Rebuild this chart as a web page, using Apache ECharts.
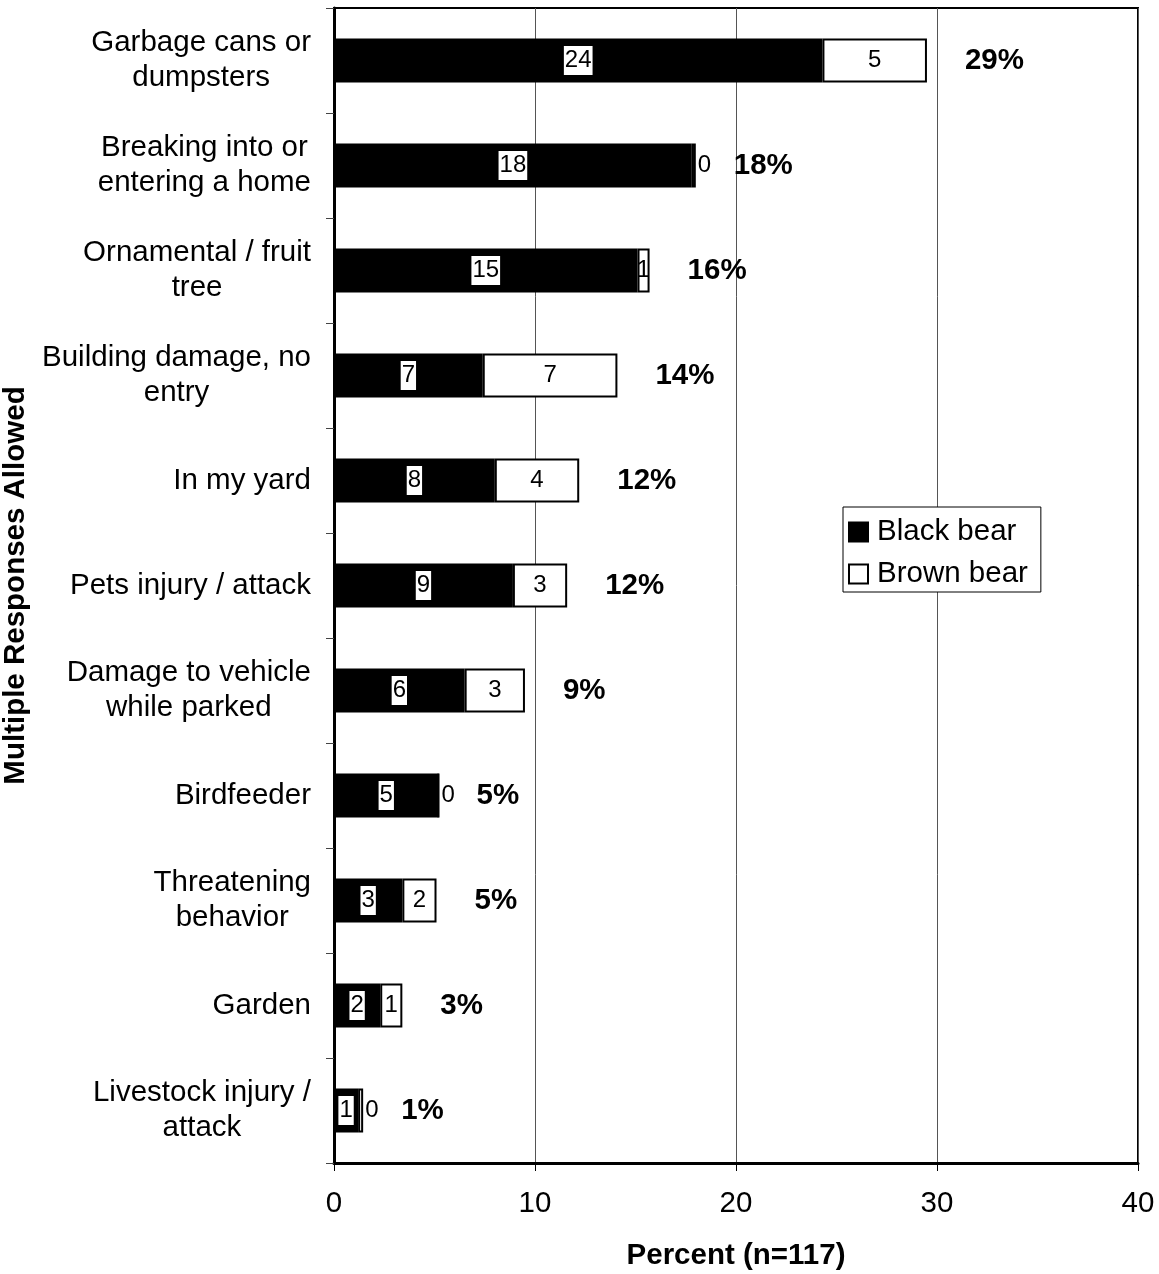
<!DOCTYPE html>
<html>
<head>
<meta charset="utf-8">
<script src="https://cdn.jsdelivr.net/npm/echarts@6/dist/echarts.min.js"></script>
<style>
html, body { margin: 0; padding: 0; background: #fff; }
#chart { width: 1159px; height: 1274px; }
</style>
</head>
<body>
<div id="chart"></div>
<script>
// categories, top to bottom
var categories = ['Garbage cans or\ndumpsters', 'Breaking into or\nentering a home', 'Ornamental / fruit\ntree',
	'Building damage, no\nentry', 'In my yard', 'Pets injury / attack', 'Damage to vehicle\nwhile parked',
	'Birdfeeder', 'Threatening\nbehavior', 'Garden', 'Livestock injury /\nattack'];
// bar lengths (percent)
var blackBear = [24.3, 17.8, 15.1, 7.4, 8.0, 8.9, 6.5, 5.2, 3.4, 2.3, 1.2];
var brownBear = [5.2, 0.2, 0.6, 6.7, 4.2, 2.7, 3.0, 0, 1.7, 1.1, 0.25];
// printed labels
var blackLabels = ['24', '18', '15', '7', '8', '9', '6', '5', '3', '2', '1'];
var brownLabels = ['5', '0', '1', '7', '4', '3', '3', '0', '2', '1', '0'];
var totalLabels = ['29%', '18%', '16%', '14%', '12%', '12%', '9%', '5%', '5%', '3%', '1%'];
var xTicks = [0, 10, 20, 30, 40];

var font = 'Liberation Sans, Arial, sans-serif';
var big = 29.5;

var totals = blackBear.map(function(v, i) { return v + brownBear[i]; });

var brownData = brownBear.map(function(v, i) {
	var d = { value: v };
	if (v < 0.5) { //太窄的放到右边
		d.label = { position: 'right', distance: 2 };
	}
	return d;
});

var chart = echarts.init(document.getElementById('chart'));
var option = {
	animation: false,
	textStyle: { fontFamily: font },
	grid: {
		left: 334,
		right: 21,
		top: 8,
		bottom: 111,
		outerBoundsMode: 'none',
		containLabel: false,
		show: true,
		borderColor: '#000',
		borderWidth: 2
	},
	legend: {
		orient: 'vertical',
		left: 843,
		top: 507,
		data: ['Black bear', 'Brown bear'],
		icon: 'rect',
		itemWidth: 19,
		itemHeight: 19,
		itemGap: 12,
		padding: [10, 13, 3, 5],
		borderColor: '#000',
		borderWidth: 1,
		backgroundColor: '#fff',
		textStyle: { fontSize: big, color: '#000', fontFamily: font, padding: [0, 0, 0, 4] }
	},
	xAxis: {
		type: 'value',
		min: xTicks[0],
		max: xTicks[xTicks.length - 1],
		interval: 10,
		name: 'Percent (n=117)',
		nameLocation: 'middle',
		nameGap: 78,
		nameTextStyle: { fontSize: big, fontWeight: 'bold', color: '#000', fontFamily: font },
		axisLine: { show: true, lineStyle: { color: '#000', width: 3 } },
		axisTick: { show: true, length: 8, lineStyle: { color: '#000' } },
		axisLabel: { fontSize: big, color: '#000', margin: 26, fontFamily: font },
		splitLine: { show: true, lineStyle: { color: '#555', width: 1 } }
	},
	yAxis: {
		type: 'category',
		inverse: true,
		data: categories,
		name: 'Multiple Responses Allowed',
		nameLocation: 'middle',
		nameGap: 298,
		nameTextStyle: { fontSize: big, fontWeight: 'bold', color: '#000', fontFamily: font },
		axisLine: { show: true, lineStyle: { color: '#000', width: 3 } },
		axisTick: { show: true, length: 8, lineStyle: { color: '#444' } },
		axisLabel: {
			color: '#000',
			margin: 23,
			align: 'right',
			fontFamily: font,
			// 多行文字整体靠右，每行居中
			formatter: function(v) {
				return v.split('\n').map(function(s) { return '{c|' + s + '}'; }).join('\n');
			},
			rich: {
				c: { align: 'center', fontSize: big, lineHeight: 35, color: '#000', fontFamily: font }
			}
		}
	},
	series: [{
		name: 'Black bear',
		type: 'bar',
		stack: 'bear',
		barWidth: 44,
		data: blackBear,
		itemStyle: { color: '#000', borderColor: '#000', borderWidth: 2 },
		label: {
			show: true,
			position: 'inside',
			fontSize: 24,
			color: '#000',
			backgroundColor: '#fff',
			padding: [3, 1, 2, 1],
			fontFamily: font,
			formatter: function(p) { return blackLabels[p.dataIndex]; }
		}
	}, {
		name: 'Brown bear',
		type: 'bar',
		stack: 'bear',
		barWidth: 44,
		data: brownData,
		itemStyle: { color: '#fff', borderColor: '#000', borderWidth: 2 },
		label: {
			show: true,
			position: 'inside',
			fontSize: 24,
			color: '#000',
			fontFamily: font,
			formatter: function(p) { return brownLabels[p.dataIndex]; }
		}
	}, {
		name: 'total',
		type: 'scatter',
		data: totals,
		symbolSize: 0,
		itemStyle: { color: '#000', opacity: 1 },
		label: {
			show: true,
			position: 'right',
			distance: 38,
			fontSize: big,
			fontWeight: 'bold',
			color: '#000',
			opacity: 1,
			fontFamily: font,
			formatter: function(p) { return totalLabels[p.dataIndex]; }
		}
	}]
};
chart.setOption(option);
</script>
</body>
</html>
